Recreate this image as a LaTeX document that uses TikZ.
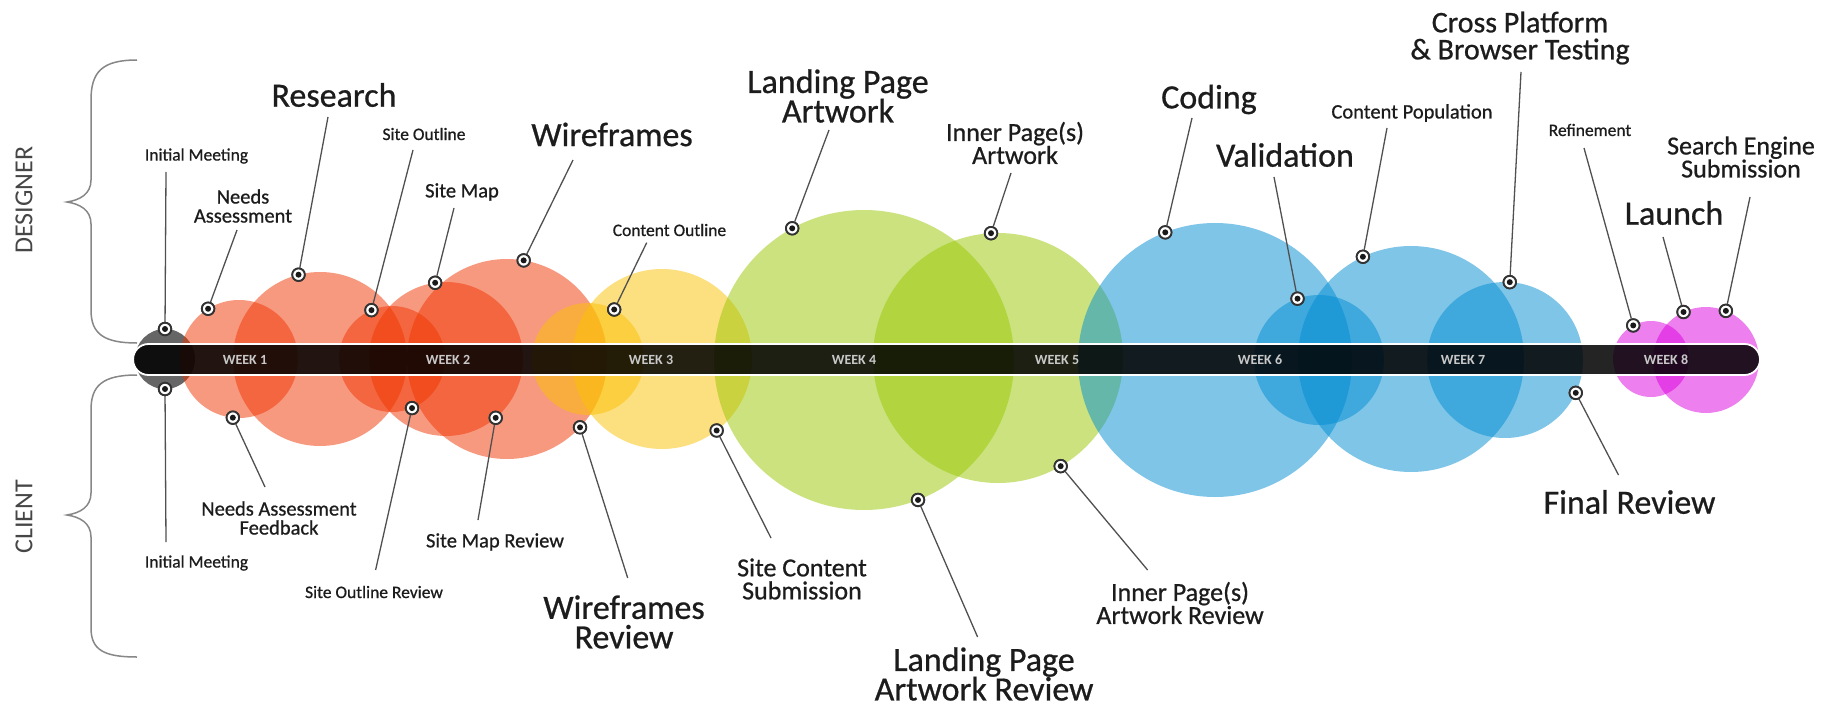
\documentclass[tikz,border=0pt]{standalone}
\usepackage{fontspec}
\setmainfont{Carlito}
\newfontfamily\lblf{Carlito}[FakeBold=0.7]
\usetikzlibrary{calc}
\definecolor{orng}{RGB}{241,53,0}
\definecolor{yllw}{RGB}{251,193,0}
\definecolor{grn}{RGB}{153,199,0}
\definecolor{blu}{RGB}{0,141,211}
\definecolor{mgnt}{RGB}{221,0,225}
\definecolor{txt}{RGB}{28,28,28}
\definecolor{lnk}{RGB}{80,80,80}
\definecolor{brc}{RGB}{135,135,135}
\definecolor{wkc}{RGB}{200,200,200}
\definecolor{sidec}{RGB}{70,70,70}
\begin{document}
\begin{tikzpicture}[x=1pt,y=-1pt,
  bub/.style={fill opacity=0.5},
  dotn/.style={circle, fill=white, draw=black!80, line width=1.8pt, minimum size=12.5pt, inner sep=0pt,
    path picture={\fill[black!90] (path picture bounding box.center) circle[radius=3pt];}},
  conn/.style={draw=lnk, line width=1.3pt},
  lbl/.style={text=txt, align=center, inner sep=0pt},
  s17/.style={lbl, font=\lblf\fontsize{17.5}{16}\selectfont},
  s20/.style={lbl, font=\lblf\fontsize{20.5}{19}\selectfont},
  s26/.style={lbl, font=\lblf\fontsize{26}{23}\selectfont},
  s30/.style={lbl, font=\lblf\fontsize{30}{27}\selectfont},
  s34/.style={lbl, font=\lblf\fontsize{34}{29.5}\selectfont},
  wklbl/.style={text=wkc, inner sep=0pt, font=\bfseries\fontsize{14}{14}\selectfont},
  side/.style={text=sidec, inner sep=0pt, rotate=90, font=\fontsize{26}{26}\selectfont},
  brace/.style={draw=brc, line width=1.5pt}]
\useasboundingbox (0,0) rectangle (1834,709);
\fill[white] (0,0) rectangle (1834,709);

% circle centres
\coordinate (G0) at (165,359);
\coordinate (O1) at (239,359);
\coordinate (O2) at (320,359);
\coordinate (O3) at (392,359);
\coordinate (O4) at (446,359);
\coordinate (O5) at (507,359);
\coordinate (Y1) at (588,359);
\coordinate (Y2) at (662,359);
\coordinate (G1) at (864,360);
\coordinate (G2) at (998,358);
\coordinate (B1) at (1215,360);
\coordinate (B2) at (1319,360);
\coordinate (B3) at (1411,359);
\coordinate (B4) at (1505,360);
\coordinate (M1) at (1651,359);
\coordinate (M2) at (1706,360);

% bubbles
\fill[black!80, fill opacity=0.75] (G0) circle[radius=30pt];
\fill[orng, bub] (O1) circle[radius=59pt];
\fill[orng, bub] (O2) circle[radius=87pt];
\fill[orng, bub] (O3) circle[radius=53pt];
\fill[orng, bub] (O4) circle[radius=77pt];
\fill[orng, bub] (O5) circle[radius=100pt];
\fill[yllw, bub] (Y1) circle[radius=56pt];
\fill[yllw, bub] (Y2) circle[radius=90pt];
\fill[grn, bub] (G1) circle[radius=150pt];
\fill[grn, bub] (G2) circle[radius=125pt];
\fill[blu, bub] (B1) circle[radius=137pt];
\fill[blu, bub] (B2) circle[radius=65pt];
\fill[blu, bub] (B3) circle[radius=113pt];
\fill[blu, bub] (B4) circle[radius=78pt];
\fill[mgnt, bub] (M1) circle[radius=38pt];
\fill[mgnt, bub] (M2) circle[radius=53pt];

% timeline bar
\path[fill=black, fill opacity=0.86, draw=white, line width=1.8pt, rounded corners=15.5pt]
  (133,344) rectangle (1760,375);

\foreach \i in {1,...,8} {
  \node[wklbl] (w\i) at ({245+203*(\i-1)},360) {WEEK \i};
}

% braces and side labels
\draw[brace] (137,60) .. controls (102,60) and (91,72) .. (91,100) -- (91,180)
  .. controls (91,194) and (80,200) .. (67,202) .. controls (80,204) and (91,210) .. (91,224)
  -- (91,310) .. controls (91,334) and (104,343) .. (137,343);
\draw[brace] (137,375) .. controls (102,375) and (91,386) .. (91,410) -- (91,493)
  .. controls (91,507) and (80,513) .. (67,515) .. controls (80,517) and (91,523) .. (91,537)
  -- (91,628) .. controls (91,650) and (104,657) .. (137,657);
\node[side] (des) at (24,200) {DESIGNER};
\node[side] (cli) at (24,517) {CLIENT};

% labels
\node[s17] (tIM) at (196.5,156) {Initial Meeting};
\node[s20] (tNA) at (243,206) {Needs\\Assessment};
\node[s34] (tRes) at (334,95) {Research};
\node[s17] (tSO) at (424,134) {Site Outline};
\node[s20] (tSM) at (462,192) {Site Map};
\node[s34] (tWF) at (612,134.5) {Wireframes};
\node[s17] (tCO) at (669.5,230) {Content Outline};
\node[s34] (tLPA) at (838,96) {Landing Page\\Artwork};
\node[s26] (tIPA) at (1015,143) {Inner Page(s)\\Artwork};
\node[s34] (tCod) at (1209,99.5) {Coding};
\node[s34] (tVal) at (1285,155) {Validation};
\node[s20] (tCP) at (1412,113) {Content Population};
\node[s30] (tXP) at (1520,38) {Cross Platform\\\& Browser Testing};
\node[s17] (tRef) at (1590,130) {Refinement};
\node[s26] (tSE) at (1741,157) {Search Engine\\Submission};
\node[s34] (tLau) at (1674,213) {Launch};
\node[s17] (tIM2) at (196.5,563) {Initial Meeting};
\node[s20] (tNAF) at (279,518) {Needs Assessment\\Feedback};
\node[s17] (tSOR) at (374,592) {Site Outline Review};
\node[s20] (tSMR) at (495,542) {Site Map Review};
\node[s34] (tWFR) at (624,622) {Wireframes\\Review};
\node[s26] (tSCS) at (802,579) {Site Content\\Submission};
\node[s34] (tLPAR) at (984,674) {Landing Page\\Artwork Review};
\node[s26] (tIPAR) at (1180,603) {Inner Page(s)\\Artwork Review};
\node[s34] (tFR) at (1629.5,502) {Final Review};

% connector free ends (just under / over each label)
\coordinate (eIM) at (166,172);
\coordinate (eNA) at (237,230);
\coordinate (eRes) at (328,117);
\coordinate (eSO) at (413,150);
\coordinate (eSM) at (454,208);
\coordinate (eWF) at (573,160);
\coordinate (eCO) at (646.7,242.7);
\coordinate (eLPA) at (829,130);
\coordinate (eIPA) at (1011,173);
\coordinate (eCod) at (1192,118);
\coordinate (eVal) at (1274,177);
\coordinate (eCP) at (1387,128);
\coordinate (eXP) at (1521,72);
\coordinate (eRef) at (1584,148);
\coordinate (eSE) at (1750,197);
\coordinate (eLau) at (1663,237);
\coordinate (eIM2) at (166,542);
\coordinate (eNAF) at (265,487);
\coordinate (eSOR) at (375.6,570);
\coordinate (eSMR) at (478,520);
\coordinate (eWFR) at (627.7,578);
\coordinate (eSCS) at (771,538);
\coordinate (eLPAR) at (977.6,637);
\coordinate (eIPAR) at (1147.6,570);
\coordinate (eFR) at (1618.5,475);

% dots on bubble edges
\node[dotn] (dIM) at ($(G0)+(90:30pt)$) {};
\node[dotn] (dIM2) at ($(G0)+(-90:30pt)$) {};
\node[dotn] (dNA) at ($(O1)+(121.6:59pt)$) {};
\node[dotn] (dNAF) at ($(O1)+(-96:59pt)$) {};
\node[dotn] (dRes) at ($(O2)+(104.3:87pt)$) {};
\node[dotn] (dSO) at ($(O3)+(112.8:53pt)$) {};
\node[dotn] (dSOR) at ($(O3)+(-67.8:53pt)$) {};
\node[dotn] (dSM) at ($(O4)+(98.1:77pt)$) {};
\node[dotn] (dSMR) at ($(O4)+(-49.8:77pt)$) {};
\node[dotn] (dWF) at ($(O5)+(80.4:100pt)$) {};
\node[dotn] (dWFR) at ($(O5)+(-43.1:100pt)$) {};
\node[dotn] (dCO) at ($(Y1)+(62.1:56pt)$) {};
\node[dotn] (dSCS) at ($(Y2)+(-52.6:90pt)$) {};
\node[dotn] (dLPA) at ($(G1)+(118.6:150pt)$) {};
\node[dotn] (dLPAR) at ($(G1)+(-68.9:150pt)$) {};
\node[dotn] (dIPA) at ($(G2)+(93.2:125pt)$) {};
\node[dotn] (dIPAR) at ($(G2)+(-59.9:125pt)$) {};
\node[dotn] (dCod) at ($(B1)+(111.3:137pt)$) {};
\node[dotn] (dVal) at ($(B2)+(109.3:65pt)$) {};
\node[dotn] (dCP) at ($(B3)+(115.2:113pt)$) {};
\node[dotn] (dXP) at ($(B4)+(86.5:78pt)$) {};
\node[dotn] (dFR) at ($(B4)+(-24.9:78pt)$) {};
\node[dotn] (dRef) at ($(M1)+(117.9:38pt)$) {};
\node[dotn] (dLau) at ($(M2)+(115.1:53pt)$) {};
\node[dotn] (dSE) at ($(M2)+(68:53pt)$) {};

% connectors
\foreach \n in {IM,NA,Res,SO,SM,WF,CO,LPA,IPA,Cod,Val,CP,XP,Ref,SE,Lau,IM2,NAF,SOR,SMR,WFR,SCS,LPAR,IPAR,FR} {
  \draw[conn] (d\n) -- (e\n);
}
% dots again on top of the connectors
\foreach \n in {IM,NA,Res,SO,SM,WF,CO,LPA,IPA,Cod,Val,CP,XP,Ref,SE,Lau,IM2,NAF,SOR,SMR,WFR,SCS,LPAR,IPAR,FR} {
  \node[dotn] (k\n) at (d\n) {};
}
\end{tikzpicture}
\end{document}
